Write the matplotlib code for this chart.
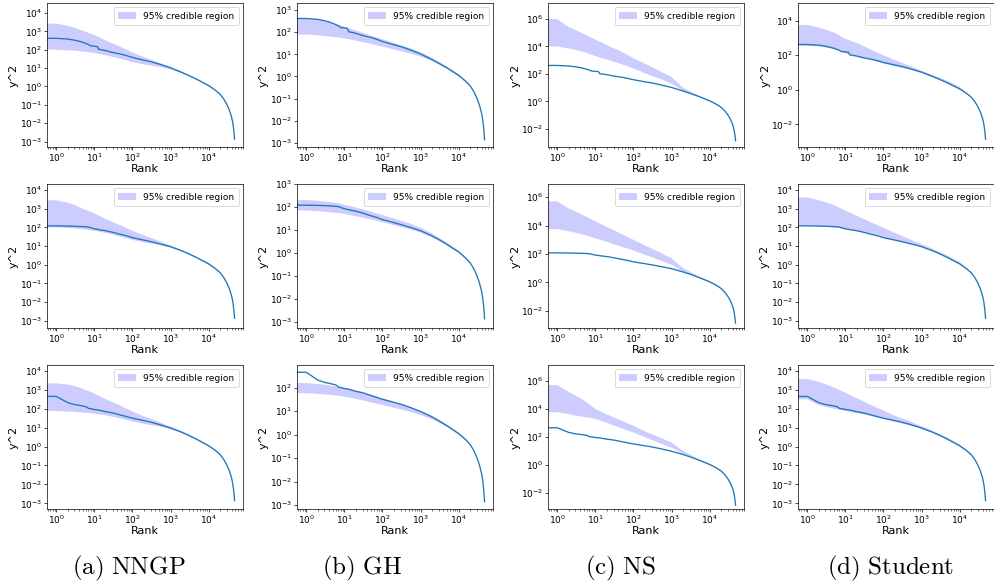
import numpy as np
import matplotlib
matplotlib.use('Agg')
import matplotlib.pyplot as plt
from matplotlib.ticker import NullLocator, LogLocator

# ---------------- data (log10 of y^2) ----------------
line_rank = [0, 1, 2, 3, 4, 5, 6, 7, 8, 9, 10, 12, 13, 15, 20, 30, 50, 70, 100, 200, 300,
             500, 1000, 2000, 3000, 5000, 7000, 10000, 15000, 20000, 25000, 30000, 35000,
             40000, 43000, 45000, 47000, 48000]

line_row1 = [2.62, 2.62, 2.58, 2.52, 2.46, 2.40, 2.34, 2.28, 2.21, 2.20, 2.19, 2.17, 2.02, 2.00,
             1.95, 1.85, 1.76, 1.68, 1.58, 1.43, 1.35, 1.22, 1.02, 0.76, 0.60, 0.38, 0.22, 0.05,
             -0.20, -0.42, -0.68, -0.97, -1.28, -1.65, -1.95, -2.25, -2.60, -2.86]
line_row2 = [2.08, 2.08, 2.07, 2.06, 2.05, 2.04, 2.03, 2.02, 1.98, 1.95, 1.92, 1.90, 1.88, 1.86,
             1.82, 1.74, 1.62, 1.55, 1.45, 1.32, 1.24, 1.13, 0.97, 0.74, 0.59, 0.37, 0.21, 0.05,
             -0.20, -0.42, -0.68, -0.97, -1.28, -1.65, -1.95, -2.25, -2.60, -2.86]
line_row3 = [2.65, 2.65, 2.32, 2.22, 2.18, 2.14, 2.11, 2.02, 2.00, 1.98, 1.96, 1.94, 1.93, 1.90,
             1.84, 1.78, 1.66, 1.58, 1.50, 1.37, 1.29, 1.17, 0.98, 0.75, 0.59, 0.37, 0.21, 0.04,
             -0.20, -0.42, -0.68, -0.97, -1.28, -1.65, -1.95, -2.25, -2.60, -2.86]

band_rank = [0, 1, 2, 3, 5, 10, 20, 50, 100, 200, 500, 1000, 2000, 5000, 10000, 20000]

nngp_r1_hi = [3.42, 3.42, 3.30, 3.20, 3.03, 2.80, 2.50, 2.15, 1.85, 1.60, 1.30, 1.05, 0.82, 0.42, 0.10, -0.40]
nngp_r1_lo = [2.00, 2.00, 1.97, 1.95, 1.90, 1.82, 1.70, 1.50, 1.33, 1.20, 1.07, 0.92, 0.72, 0.36, 0.03, -0.44]
gh_r1_hi = [2.60, 2.60, 2.57, 2.52, 2.42, 2.25, 2.08, 1.85, 1.68, 1.52, 1.30, 1.10, 0.85, 0.45, 0.10, -0.40]
gh_r1_lo = [1.90, 1.90, 1.86, 1.83, 1.79, 1.72, 1.62, 1.47, 1.35, 1.22, 1.05, 0.90, 0.70, 0.34, 0.00, -0.44]
ns_r1_hi = [6.00, 6.00, 5.40, 5.20, 4.90, 4.50, 4.10, 3.60, 3.15, 2.75, 2.20, 1.78, 1.00, 0.45, 0.10, -0.40]
ns_r1_lo = [4.00, 4.00, 3.85, 3.75, 3.60, 3.30, 3.05, 2.70, 2.40, 2.05, 1.65, 1.30, 0.78, 0.36, 0.02, -0.44]
st_r1_hi = [3.75, 3.75, 3.60, 3.48, 3.32, 2.95, 2.70, 2.30, 2.00, 1.72, 1.38, 1.10, 0.85, 0.50, 0.18, -0.40]
st_r1_lo = [2.55, 2.55, 2.50, 2.45, 2.35, 2.10, 1.90, 1.72, 1.52, 1.36, 1.17, 0.97, 0.72, 0.34, 0.02, -0.44]

nngp_r2_hi = [3.45, 3.45, 3.32, 3.20, 3.00, 2.75, 2.45, 2.10, 1.82, 1.58, 1.28, 1.03, 0.80, 0.42, 0.10, -0.40]
nngp_r2_lo = [2.00, 2.00, 1.97, 1.94, 1.90, 1.82, 1.70, 1.50, 1.33, 1.20, 1.06, 0.91, 0.71, 0.35, 0.02, -0.44]
gh_r2_hi = [2.30, 2.30, 2.27, 2.24, 2.20, 2.10, 1.98, 1.80, 1.65, 1.50, 1.30, 1.10, 0.85, 0.45, 0.10, -0.40]
gh_r2_lo = [1.85, 1.85, 1.82, 1.80, 1.76, 1.70, 1.60, 1.46, 1.34, 1.21, 1.04, 0.89, 0.69, 0.33, 0.00, -0.44]
ns_r2_hi = [5.70, 5.70, 5.20, 5.00, 4.70, 4.30, 3.90, 3.40, 3.00, 2.60, 2.10, 1.70, 1.00, 0.45, 0.10, -0.40]
ns_r2_lo = [3.75, 3.75, 3.60, 3.50, 3.35, 3.10, 2.85, 2.50, 2.25, 1.95, 1.55, 1.25, 0.76, 0.35, 0.02, -0.44]
st_r2_hi = [3.60, 3.60, 3.45, 3.35, 3.20, 2.90, 2.62, 2.25, 1.97, 1.70, 1.36, 1.10, 0.85, 0.48, 0.16, -0.40]
st_r2_lo = [2.08, 2.08, 2.06, 2.04, 2.00, 1.90, 1.80, 1.62, 1.45, 1.30, 1.12, 0.95, 0.72, 0.34, 0.02, -0.44]

nngp_r3_hi = [3.34, 3.34, 3.28, 3.20, 3.05, 2.80, 2.50, 2.15, 1.85, 1.60, 1.30, 1.05, 0.82, 0.42, 0.10, -0.40]
nngp_r3_lo = [1.88, 1.88, 1.85, 1.83, 1.80, 1.74, 1.65, 1.48, 1.33, 1.20, 1.06, 0.91, 0.71, 0.35, 0.02, -0.44]
gh_r3_hi = [2.19, 2.19, 2.15, 2.12, 2.07, 1.97, 1.87, 1.70, 1.54, 1.40, 1.20, 1.00, 0.80, 0.42, 0.08, -0.40]
gh_r3_lo = [1.76, 1.76, 1.73, 1.71, 1.68, 1.61, 1.52, 1.37, 1.26, 1.14, 0.98, 0.83, 0.65, 0.32, 0.00, -0.44]
ns_r3_hi = [5.69, 5.69, 5.20, 4.95, 4.60, 4.00, 3.60, 3.15, 2.79, 2.40, 1.95, 1.60, 1.00, 0.45, 0.10, -0.40]
ns_r3_lo = [3.76, 3.76, 3.62, 3.52, 3.42, 3.29, 3.00, 2.60, 2.31, 1.98, 1.55, 1.24, 0.80, 0.36, 0.02, -0.44]
st_r3_hi = [3.57, 3.57, 3.42, 3.30, 3.12, 2.85, 2.55, 2.18, 1.90, 1.63, 1.33, 1.07, 0.83, 0.45, 0.12, -0.40]
st_r3_lo = [2.50, 2.50, 2.20, 2.10, 2.00, 1.88, 1.76, 1.60, 1.45, 1.30, 1.12, 0.94, 0.71, 0.34, 0.02, -0.44]

captions = ['(a) NNGP', '(b) GH', '(c) NS', '(d) Student']
legend_label = '95% credible region'
x_label = 'Rank'
y_label = 'y^2'

# y-axis limits (log10) and tick step per panel
ylims = [[(-3.29, 4.54), (-3.19, 3.32), (-3.31, 7.16), (-3.31, 5.02)],
         [(-3.38, 4.32), (-3.26, 3.00), (-3.20, 6.92), (-3.38, 4.32)],
         [(-3.30, 4.31), (-3.17, 2.96), (-3.13, 7.12), (-3.30, 4.31)]]
ytick_step = [[1, 1, 2, 2],
              [1, 1, 2, 1],
              [1, 1, 2, 1]]

lines = [line_row1, line_row2, line_row3]
bands = [[(nngp_r1_lo, nngp_r1_hi), (gh_r1_lo, gh_r1_hi), (ns_r1_lo, ns_r1_hi), (st_r1_lo, st_r1_hi)],
         [(nngp_r2_lo, nngp_r2_hi), (gh_r2_lo, gh_r2_hi), (ns_r2_lo, ns_r2_hi), (st_r2_lo, st_r2_hi)],
         [(nngp_r3_lo, nngp_r3_hi), (gh_r3_lo, gh_r3_hi), (ns_r3_lo, ns_r3_hi), (st_r3_lo, st_r3_hi)]]

# ---------------- figure ----------------
W, H = 995, 588
fig = plt.figure(figsize=(W / 100, H / 100), dpi=100)
col_left = [47, 297, 548, 798]
row_top = [3, 184, 365]
aw, ah = 196, 144

for i in range(3):
    for j in range(4):
        ax = fig.add_axes([col_left[j] / W, 1 - (row_top[i] + ah) / H, aw / W, ah / H])
        ax.set_xscale('log')
        ax.set_yscale('log')
        lo, hi = bands[i][j]
        ax.fill_between(band_rank, 10.0 ** np.array(lo), 10.0 ** np.array(hi),
                        color='b', alpha=0.2, lw=0, label=legend_label)
        ax.plot(line_rank, 10.0 ** np.array(lines[i]), color='C0', lw=0.95)
        ax.set_xlim(0.57, 8.0e4)
        y0, y1 = ylims[i][j]
        ax.set_ylim(10 ** y0, 10 ** y1)
        st = ytick_step[i][j]
        start = int(np.ceil(y0 / st) * st)
        ax.set_yticks(10.0 ** np.arange(start, y1 + 1e-9, st))
        ax.yaxis.set_minor_locator(NullLocator())
        ax.set_xticks([1, 10, 100, 1000, 10000])
        ax.xaxis.set_minor_locator(LogLocator(base=10, subs=np.arange(2, 10), numticks=20))
        ax.tick_params(which='major', labelsize=6.5, length=2.5, width=0.5, pad=1.0)
        ax.tick_params(which='minor', length=1.4, width=0.4)
        for s in ax.spines.values():
            s.set_linewidth(0.5)
        ax.set_xlabel(x_label, fontsize=8, labelpad=0)
        ax.set_ylabel(y_label, fontsize=8, labelpad=0.5)
        leg = ax.legend(loc='upper right', fontsize=6.5, borderaxespad=0.45,
                        handlelength=2.0, framealpha=1.0, borderpad=0.5)
        leg.get_frame().set_linewidth(0.5)

cap_x = [129, 362, 621, 891]
for j, c in enumerate(captions):
    txt = c.replace(' ', r'\ ')
    fig.text(cap_x[j] / W, 1 - 568 / H, r'$\mathrm{' + txt + '}$', ha='center', va='center',
             fontsize=18, math_fontfamily='cm')

fig.savefig('out.png', dpi=100)
